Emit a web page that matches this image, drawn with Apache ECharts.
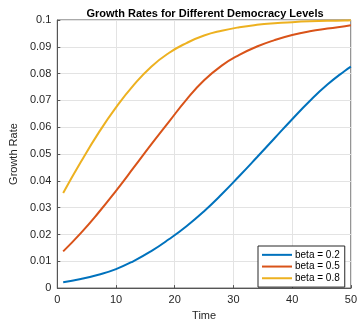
<!DOCTYPE html>
<html>
<head>
<meta charset="utf-8">
<script src="https://cdn.jsdelivr.net/npm/echarts@6/dist/echarts.min.js"></script>
<style>
html,body{margin:0;padding:0;background:#fff;}
#c{width:360px;height:326px;}
</style>
</head>
<body>
<div id="c"></div>
<script>
var times  = [1, 4, 7, 10, 13, 16, 19, 22, 25, 28, 31, 34, 37, 40, 43, 46, 49, 50];
var beta02 = [0.0022, 0.0034, 0.0050, 0.0071, 0.0101, 0.0138, 0.0182, 0.0231, 0.0287, 0.0350, 0.0418, 0.0488, 0.0559, 0.0630, 0.0698, 0.0759, 0.0811, 0.0826];
var beta05 = [0.0137, 0.0205, 0.0281, 0.0363, 0.0449, 0.0536, 0.0620, 0.0703, 0.0775, 0.0830, 0.0870, 0.0901, 0.0925, 0.0944, 0.0958, 0.0968, 0.0977, 0.0980];
var beta08 = [0.0355, 0.0470, 0.0578, 0.0674, 0.0757, 0.0826, 0.0877, 0.0914, 0.0942, 0.0960, 0.0973, 0.0982, 0.0988, 0.0992, 0.0995, 0.0997, 0.0998, 0.0999];
var seriesNames = ['beta = 0.2', 'beta = 0.5', 'beta = 0.8'];
var xTicks = [0, 10, 20, 30, 40, 50];
var yTicks = [0, 0.01, 0.02, 0.03, 0.04, 0.05, 0.06, 0.07, 0.08, 0.09, 0.1];
var colors = ['#0072BD', '#D95319', '#EDB120'];

function pairs(vals) { return times.map(function (t, i) { return [t, vals[i]]; }); }
var allVals = [beta02, beta05, beta08];

var FONT = 'Liberation Sans, Arial, Helvetica, sans-serif';
var chart = echarts.init(document.getElementById('c'), null, {renderer: 'canvas'});
chart.setOption({
  animation: false,
  backgroundColor: '#ffffff',
  title: {
    text: 'Growth Rates for Different Democracy Levels',
    left: 200, textAlign: 'center', top: 3,
    textStyle: {fontFamily: FONT, fontSize: 11, fontWeight: 'bold', color: '#000'}
  },
  grid: {left: 47, right: 7, top: 20, bottom: 29, show: true, borderColor: '#555', borderWidth: 1, backgroundColor: 'transparent'},
  legend: {
    orient: 'vertical', left: 258, top: 246,
    data: seriesNames.map(function (n) { return {name: n, icon: 'rect'}; }),
    itemWidth: 30, itemHeight: 2, itemGap: 0,
    padding: [3, 5, 3, 4],
    backgroundColor: '#fff', borderColor: '#262626', borderWidth: 1,
    textStyle: {fontFamily: FONT, fontSize: 10, color: '#000', lineHeight: 11.7, padding: [0, 0, 0, -2]}
  },
  xAxis: {
    type: 'value', min: xTicks[0], max: xTicks[xTicks.length - 1], interval: 10,
    name: 'Time', nameLocation: 'middle', nameGap: 18,
    nameTextStyle: {fontFamily: FONT, fontSize: 11, color: '#262626'},
    axisLine: {onZero: false, lineStyle: {color: '#555', width: 1}},
    axisTick: {inside: true, length: 3, lineStyle: {color: '#555'}},
    axisLabel: {fontFamily: FONT, fontSize: 11, color: '#262626', margin: 6},
    splitLine: {show: true, lineStyle: {color: '#e3e3e3', width: 1}}
  },
  yAxis: {
    type: 'value', min: yTicks[0], max: yTicks[yTicks.length - 1], interval: 0.01,
    name: 'Growth Rate', nameLocation: 'middle', nameGap: 28,
    nameTextStyle: {fontFamily: FONT, fontSize: 11, color: '#262626'},
    axisLine: {show: true, onZero: false, lineStyle: {color: '#555', width: 1}},
    axisTick: {show: true, inside: true, length: 3, lineStyle: {color: '#555'}},
    axisLabel: {fontFamily: FONT, fontSize: 11, color: '#262626', margin: 6,
      formatter: function (v) { return String(+v.toFixed(2)); }},
    splitLine: {show: true, lineStyle: {color: '#e3e3e3', width: 1}}
  },
  series: seriesNames.map(function (n, i) {
    return {
      name: n, type: 'line', data: pairs(allVals[i]),
      symbol: 'none', smooth: 0.5,
      lineStyle: {color: colors[i], width: 2},
      itemStyle: {color: colors[i]}
    };
  })
});
</script>
</body>
</html>
